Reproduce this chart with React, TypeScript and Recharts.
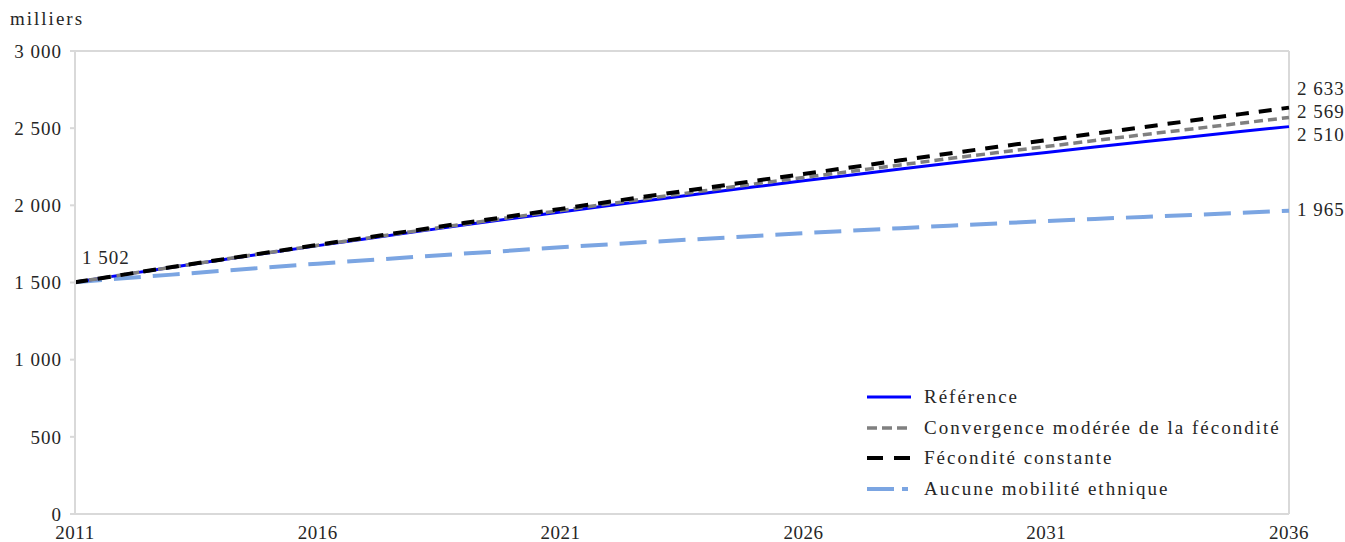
import {
  Legend,
  Line,
  LineChart,
  ReferenceLine,
  XAxis,
  YAxis
} from "recharts";

// années de projection
const YEARS = [
  2011, 2012, 2013, 2014, 2015, 2016, 2017, 2018, 2019, 2020, 2021, 2022, 2023,
  2024, 2025, 2026, 2027, 2028, 2029, 2030, 2031, 2032, 2033, 2034, 2035, 2036
];

// population en milliers, par scénario
const REFERENCE = [
  1502, 1551, 1599, 1646, 1693, 1739, 1784, 1828, 1872, 1915, 1957, 1999, 2040,
  2080, 2120, 2159, 2197, 2235, 2272, 2308, 2343, 2378, 2412, 2445, 2478, 2510
];
const CONVERGENCE = [
  1502, 1551, 1599, 1647, 1695, 1741, 1787, 1833, 1878, 1923, 1966, 2010, 2054,
  2096, 2139, 2180, 2221, 2262, 2303, 2342, 2381, 2420, 2458, 2495, 2532, 2569
];
const CONSTANTE = [
  1502, 1551, 1600, 1648, 1696, 1744, 1791, 1838, 1885, 1931, 1977, 2023, 2068,
  2113, 2159, 2203, 2247, 2292, 2336, 2379, 2422, 2465, 2507, 2549, 2591, 2633
];
const AUCUNE = [
  1502, 1527, 1551, 1575, 1599, 1622, 1644, 1666, 1687, 1707, 1728, 1747, 1766,
  1784, 1802, 1820, 1836, 1852, 1868, 1883, 1898, 1912, 1925, 1938, 1951, 1965
];

const X_TICKS = [2011, 2016, 2021, 2026, 2031, 2036];
const Y_TICKS = [0, 500, 1000, 1500, 2000, 2500, 3000];

const data = YEARS.map((year, i) => ({
  year,
  reference: REFERENCE[i],
  convergence: CONVERGENCE[i],
  constante: CONSTANTE[i],
  aucune: AUCUNE[i]
}));

const FONT = '"Liberation Serif", "DejaVu Serif", serif';
const TEXT = "#262626";
const AXIS = "#d9d9d9";

const fmt = (v: number) =>
  String(v).replace(/\B(?=(\d{3})+(?!\d))/g, "\u00a0");

const series = [
  {
    key: "aucune",
    name: "Aucune mobilité ethnique",
    color: "#7ba5e2",
    width: 4,
    dash: "27 12",
    legendDash: "27 8 6 100",
    endDy: -1
  },
  {
    key: "reference",
    name: "Référence",
    color: "#0000ff",
    width: 3,
    dash: undefined,
    legendDash: undefined,
    endDy: 8
  },
  {
    key: "convergence",
    name: "Convergence modérée de la fécondité",
    color: "#808080",
    width: 3.5,
    dash: "9 5",
    legendDash: "10 5",
    endDy: -6
  },
  {
    key: "constante",
    name: "Fécondité constante",
    color: "#000000",
    width: 4,
    dash: "13 10",
    legendDash: "16 11",
    endDy: -19
  }
];

const legendOrder = ["reference", "convergence", "constante", "aucune"];

const makeLabel = (dy: number, withStart: boolean) => (props: any) => {
  const { x, y, index, value } = props;
  const last = YEARS.length - 1;
  if (index === last) {
    return (
      <text
        x={x + 8}
        y={y + dy}
        dy="0.35em"
        fill={TEXT}
        fontSize={19}
        fontFamily={FONT}
        letterSpacing={1}
      >
        {fmt(value)}
      </text>
    );
  }
  if (withStart && index === 0) {
    return (
      <text
        x={x + 7}
        y={y - 25}
        dy="0.35em"
        fill={TEXT}
        fontSize={19}
        fontFamily={FONT}
        letterSpacing={1}
      >
        {fmt(value)}
      </text>
    );
  }
  return null;
};

function LegendBox() {
  return (
    <div style={{ fontFamily: FONT, fontSize: 19, color: TEXT }}>
      {legendOrder.map((k) => {
        const s = series.find((d) => d.key === k)!;
        return (
          <div
            key={k}
            style={{ display: "flex", alignItems: "center", height: 30.5 }}
          >
            <svg width={46} height={10} style={{ marginRight: 12 }}>
              <line
                x1={1}
                x2={45}
                y1={5}
                y2={5}
                stroke={s.color}
                strokeWidth={s.width}
                strokeDasharray={s.legendDash}
              />
            </svg>
            <span style={{ letterSpacing: 2, whiteSpace: "nowrap" }}>
              {s.name}
            </span>
          </div>
        );
      })}
    </div>
  );
}

export default function App() {
  return (
    <div
      style={{
        position: "absolute",
        left: 0,
        top: 0,
        width: 1345,
        height: 542,
        background: "#fff"
      }}
    >
      <div
        style={{
          position: "absolute",
          left: 10,
          top: 8,
          fontFamily: FONT,
          fontSize: 19,
          letterSpacing: 2,
          color: TEXT
        }}
      >
        milliers
      </div>
      <LineChart
        width={1345}
        height={542}
        data={data}
        margin={{ top: 51, right: 56, bottom: 0, left: 15 }}
      >
        <XAxis
          dataKey="year"
          type="number"
          domain={[2011, 2036]}
          ticks={X_TICKS}
          interval={0}
          height={28}
          tickLine={false}
          tickSize={0}
          tickMargin={12}
          axisLine={{ stroke: AXIS, strokeWidth: 2 }}
          tick={{ fill: TEXT, fontSize: 19, fontFamily: FONT, letterSpacing: 0.5 }}
        />
        <YAxis
          width={60}
          domain={[0, 3000]}
          ticks={Y_TICKS}
          interval={0}
          tickSize={5}
          tickMargin={8}
          tickFormatter={fmt}
          tickLine={{ stroke: AXIS, strokeWidth: 2 }}
          axisLine={{ stroke: AXIS, strokeWidth: 2 }}
          tick={{ fill: TEXT, fontSize: 19, fontFamily: FONT, letterSpacing: 1 }}
        />
        <ReferenceLine y={3000} stroke={AXIS} strokeWidth={2} />
        <ReferenceLine x={2036} stroke={AXIS} strokeWidth={2} />
        {series.map((s) => (
          <Line
            key={s.key}
            type="linear"
            dataKey={s.key}
            name={s.name}
            stroke={s.color}
            strokeWidth={s.width}
            strokeDasharray={s.dash}
            dot={false}
            activeDot={false}
            isAnimationActive={false}
            label={makeLabel(s.endDy, s.key === "reference")}
          />
        ))}
        <Legend
          layout="vertical"
          align="center"
          verticalAlign="middle"
          content={() => <LegendBox />}
          wrapperStyle={{
            left: 866,
            top: 382,
            right: "auto",
            bottom: "auto",
            width: 460
          }}
        />
      </LineChart>
    </div>
  );
}
